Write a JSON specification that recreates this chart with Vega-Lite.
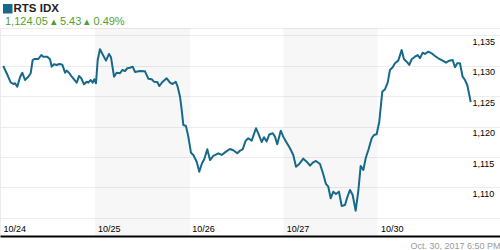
{
  "$schema": "https://vega.github.io/schema/vega-lite/v6.json",
  "width": 500,
  "height": 208,
  "autosize": "none",
  "padding": {"top": 28, "left": 0, "right": 0, "bottom": 14},
  "background": "white",
  "config": {"view": {"stroke": "#ececec"}, "font": "Liberation Sans"},
  "title": {
    "text": "1,124.05  ▴ 5.43  ▴ 0.49%",
    "anchor": "start",
    "orient": "top",
    "frame": "group",
    "offset": -33,
    "dx": 5,
    "baseline": "alphabetic",
    "fontSize": 11,
    "fontWeight": "normal",
    "color": "#4f9f2f",
    "font": "Liberation Sans"
  },
  "layer": [
    {
      "data": {"values": [{"t": 1.006, "t2": 2.013}, {"t": 3.001, "t2": 4.001}]},
      "mark": {"type": "rect", "fill": "#000", "opacity": 0.03},
      "encoding": {
        "x": {
          "field": "t", "type": "quantitative",
          "scale": {"domain": [0, 5.297], "nice": false, "zero": false},
          "axis": {
            "values": [0, 1, 2, 3, 4],
            "labelExpr": "['10/24','10/25','10/26','10/27','10/30'][datum.value]",
            "labelAlign": "left", "labelOffset": 3, "labelBaseline": "alphabetic", "labelPadding": -5,
            "ticks": false, "tickSize": 0, "grid": false,
            "domainColor": "#000", "domainWidth": 2,
            "labelFontSize": 9, "labelColor": "#000", "labelFlush": false, "labelOverlap": false,
            "title": "Oct. 30, 2017 6:50 PM", "titleFontSize": 9, "titleFontWeight": "normal", "titleColor": "#999",
            "titleX": 500, "titleY": 12, "titleAlign": "right", "titleAnchor": "end", "titleBaseline": "alphabetic"
          }
        },
        "x2": {"field": "t2"}
      }
    },
    {
      "data": {"values": [
        {"t":0.035,"v":1129.98,"s":"RTS IDX"},{"t":0.071,"v":1128.78,"s":"RTS IDX"},{"t":0.113,"v":1127.30,"s":"RTS IDX"},{"t":0.141,"v":1127.02,"s":"RTS IDX"},{"t":0.159,"v":1127.14,"s":"RTS IDX"},{"t":0.183,"v":1126.58,"s":"RTS IDX"},{"t":0.212,"v":1128.12,"s":"RTS IDX"},{"t":0.236,"v":1128.88,"s":"RTS IDX"},{"t":0.265,"v":1127.68,"s":"RTS IDX"},{"t":0.300,"v":1128.22,"s":"RTS IDX"},{"t":0.325,"v":1128.78,"s":"RTS IDX"},{"t":0.346,"v":1130.97,"s":"RTS IDX"},{"t":0.363,"v":1131.13,"s":"RTS IDX"},{"t":0.406,"v":1131.13,"s":"RTS IDX"},{"t":0.438,"v":1131.79,"s":"RTS IDX"},{"t":0.459,"v":1131.51,"s":"RTS IDX"},{"t":0.501,"v":1131.51,"s":"RTS IDX"},{"t":0.530,"v":1131.09,"s":"RTS IDX"},{"t":0.548,"v":1129.87,"s":"RTS IDX"},{"t":0.572,"v":1130.26,"s":"RTS IDX"},{"t":0.601,"v":1130.15,"s":"RTS IDX"},{"t":0.628,"v":1130.31,"s":"RTS IDX"},{"t":0.660,"v":1130.20,"s":"RTS IDX"},{"t":0.689,"v":1128.88,"s":"RTS IDX"},{"t":0.707,"v":1129.21,"s":"RTS IDX"},{"t":0.731,"v":1128.88,"s":"RTS IDX"},{"t":0.760,"v":1128.22,"s":"RTS IDX"},{"t":0.784,"v":1127.80,"s":"RTS IDX"},{"t":0.813,"v":1127.24,"s":"RTS IDX"},{"t":0.837,"v":1128.34,"s":"RTS IDX"},{"t":0.861,"v":1127.96,"s":"RTS IDX"},{"t":0.890,"v":1126.97,"s":"RTS IDX"},{"t":0.918,"v":1127.40,"s":"RTS IDX"},{"t":0.935,"v":1127.24,"s":"RTS IDX"},{"t":0.961,"v":1127.68,"s":"RTS IDX"},{"t":0.982,"v":1127.24,"s":"RTS IDX"},{"t":0.999,"v":1127.80,"s":"RTS IDX"},{"t":1.017,"v":1127.14,"s":"RTS IDX"},{"t":1.035,"v":1130.97,"s":"RTS IDX"},{"t":1.059,"v":1132.73,"s":"RTS IDX"},{"t":1.091,"v":1131.79,"s":"RTS IDX"},{"t":1.123,"v":1130.86,"s":"RTS IDX"},{"t":1.155,"v":1131.96,"s":"RTS IDX"},{"t":1.176,"v":1131.41,"s":"RTS IDX"},{"t":1.208,"v":1128.22,"s":"RTS IDX"},{"t":1.236,"v":1128.88,"s":"RTS IDX"},{"t":1.271,"v":1128.78,"s":"RTS IDX"},{"t":1.296,"v":1129.33,"s":"RTS IDX"},{"t":1.324,"v":1129.16,"s":"RTS IDX"},{"t":1.349,"v":1129.61,"s":"RTS IDX"},{"t":1.377,"v":1129.70,"s":"RTS IDX"},{"t":1.406,"v":1129.87,"s":"RTS IDX"},{"t":1.430,"v":1129.00,"s":"RTS IDX"},{"t":1.483,"v":1129.16,"s":"RTS IDX"},{"t":1.536,"v":1129.11,"s":"RTS IDX"},{"t":1.571,"v":1127.89,"s":"RTS IDX"},{"t":1.607,"v":1127.80,"s":"RTS IDX"},{"t":1.631,"v":1127.40,"s":"RTS IDX"},{"t":1.666,"v":1127.35,"s":"RTS IDX"},{"t":1.688,"v":1126.69,"s":"RTS IDX"},{"t":1.724,"v":1127.40,"s":"RTS IDX"},{"t":1.766,"v":1127.96,"s":"RTS IDX"},{"t":1.801,"v":1127.24,"s":"RTS IDX"},{"t":1.829,"v":1127.02,"s":"RTS IDX"},{"t":1.861,"v":1127.40,"s":"RTS IDX"},{"t":1.882,"v":1126.58,"s":"RTS IDX"},{"t":1.907,"v":1124.93,"s":"RTS IDX"},{"t":1.925,"v":1122.75,"s":"RTS IDX"},{"t":1.942,"v":1120.28,"s":"RTS IDX"},{"t":1.970,"v":1120.12,"s":"RTS IDX"},{"t":1.995,"v":1118.36,"s":"RTS IDX"},{"t":2.023,"v":1115.72,"s":"RTS IDX"},{"t":2.048,"v":1115.35,"s":"RTS IDX"},{"t":2.084,"v":1114.24,"s":"RTS IDX"},{"t":2.111,"v":1112.60,"s":"RTS IDX"},{"t":2.140,"v":1113.98,"s":"RTS IDX"},{"t":2.164,"v":1114.64,"s":"RTS IDX"},{"t":2.196,"v":1116.28,"s":"RTS IDX"},{"t":2.225,"v":1114.52,"s":"RTS IDX"},{"t":2.260,"v":1115.18,"s":"RTS IDX"},{"t":2.313,"v":1115.62,"s":"RTS IDX"},{"t":2.348,"v":1115.35,"s":"RTS IDX"},{"t":2.394,"v":1115.89,"s":"RTS IDX"},{"t":2.436,"v":1116.33,"s":"RTS IDX"},{"t":2.471,"v":1116.12,"s":"RTS IDX"},{"t":2.514,"v":1115.62,"s":"RTS IDX"},{"t":2.542,"v":1116.05,"s":"RTS IDX"},{"t":2.571,"v":1116.28,"s":"RTS IDX"},{"t":2.603,"v":1117.70,"s":"RTS IDX"},{"t":2.630,"v":1118.09,"s":"RTS IDX"},{"t":2.666,"v":1117.70,"s":"RTS IDX"},{"t":2.712,"v":1119.74,"s":"RTS IDX"},{"t":2.736,"v":1118.91,"s":"RTS IDX"},{"t":2.772,"v":1117.48,"s":"RTS IDX"},{"t":2.797,"v":1118.26,"s":"RTS IDX"},{"t":2.825,"v":1117.57,"s":"RTS IDX"},{"t":2.853,"v":1118.72,"s":"RTS IDX"},{"t":2.889,"v":1118.91,"s":"RTS IDX"},{"t":2.913,"v":1118.36,"s":"RTS IDX"},{"t":2.937,"v":1117.11,"s":"RTS IDX"},{"t":2.974,"v":1119.34,"s":"RTS IDX"},{"t":3.001,"v":1118.36,"s":"RTS IDX"},{"t":3.037,"v":1117.37,"s":"RTS IDX"},{"t":3.072,"v":1116.45,"s":"RTS IDX"},{"t":3.107,"v":1115.35,"s":"RTS IDX"},{"t":3.136,"v":1113.42,"s":"RTS IDX"},{"t":3.171,"v":1113.87,"s":"RTS IDX"},{"t":3.213,"v":1114.74,"s":"RTS IDX"},{"t":3.249,"v":1114.24,"s":"RTS IDX"},{"t":3.284,"v":1113.59,"s":"RTS IDX"},{"t":3.319,"v":1114.14,"s":"RTS IDX"},{"t":3.347,"v":1114.36,"s":"RTS IDX"},{"t":3.390,"v":1113.87,"s":"RTS IDX"},{"t":3.425,"v":1112.17,"s":"RTS IDX"},{"t":3.453,"v":1110.58,"s":"RTS IDX"},{"t":3.478,"v":1110.13,"s":"RTS IDX"},{"t":3.503,"v":1108.22,"s":"RTS IDX"},{"t":3.531,"v":1109.31,"s":"RTS IDX"},{"t":3.559,"v":1108.93,"s":"RTS IDX"},{"t":3.591,"v":1109.31,"s":"RTS IDX"},{"t":3.620,"v":1106.96,"s":"RTS IDX"},{"t":3.655,"v":1107.12,"s":"RTS IDX"},{"t":3.679,"v":1108.39,"s":"RTS IDX"},{"t":3.708,"v":1109.59,"s":"RTS IDX"},{"t":3.736,"v":1108.77,"s":"RTS IDX"},{"t":3.768,"v":1106.18,"s":"RTS IDX"},{"t":3.796,"v":1109.42,"s":"RTS IDX"},{"t":3.821,"v":1113.54,"s":"RTS IDX"},{"t":3.849,"v":1112.88,"s":"RTS IDX"},{"t":3.874,"v":1114.80,"s":"RTS IDX"},{"t":3.902,"v":1116.17,"s":"RTS IDX"},{"t":3.938,"v":1118.09,"s":"RTS IDX"},{"t":3.962,"v":1118.63,"s":"RTS IDX"},{"t":3.990,"v":1118.75,"s":"RTS IDX"},{"t":4.018,"v":1120.82,"s":"RTS IDX"},{"t":4.050,"v":1125.76,"s":"RTS IDX"},{"t":4.078,"v":1126.15,"s":"RTS IDX"},{"t":4.107,"v":1127.24,"s":"RTS IDX"},{"t":4.131,"v":1129.33,"s":"RTS IDX"},{"t":4.160,"v":1129.77,"s":"RTS IDX"},{"t":4.184,"v":1130.43,"s":"RTS IDX"},{"t":4.219,"v":1130.86,"s":"RTS IDX"},{"t":4.255,"v":1132.62,"s":"RTS IDX"},{"t":4.280,"v":1131.09,"s":"RTS IDX"},{"t":4.308,"v":1130.69,"s":"RTS IDX"},{"t":4.336,"v":1130.15,"s":"RTS IDX"},{"t":4.361,"v":1131.09,"s":"RTS IDX"},{"t":4.396,"v":1131.51,"s":"RTS IDX"},{"t":4.425,"v":1131.79,"s":"RTS IDX"},{"t":4.449,"v":1131.25,"s":"RTS IDX"},{"t":4.478,"v":1132.17,"s":"RTS IDX"},{"t":4.502,"v":1131.96,"s":"RTS IDX"},{"t":4.537,"v":1132.34,"s":"RTS IDX"},{"t":4.573,"v":1132.07,"s":"RTS IDX"},{"t":4.608,"v":1131.63,"s":"RTS IDX"},{"t":4.643,"v":1131.25,"s":"RTS IDX"},{"t":4.690,"v":1130.86,"s":"RTS IDX"},{"t":4.725,"v":1130.53,"s":"RTS IDX"},{"t":4.760,"v":1130.86,"s":"RTS IDX"},{"t":4.796,"v":1130.97,"s":"RTS IDX"},{"t":4.820,"v":1129.77,"s":"RTS IDX"},{"t":4.844,"v":1130.43,"s":"RTS IDX"},{"t":4.873,"v":1130.43,"s":"RTS IDX"},{"t":4.901,"v":1128.22,"s":"RTS IDX"},{"t":4.926,"v":1127.68,"s":"RTS IDX"},{"t":4.950,"v":1126.86,"s":"RTS IDX"},{"t":4.979,"v":1124.67,"s":"RTS IDX"},{"t":4.986,"v":1124.05,"s":"RTS IDX"}
      ]},
      "mark": {"type": "line", "strokeWidth": 2, "strokeJoin": "round"},
      "encoding": {
        "x": {
          "field": "t", "type": "quantitative",
          "scale": {"domain": [0, 5.297], "nice": false, "zero": false},
          "axis": {
            "values": [0, 1, 2, 3, 4],
            "labelExpr": "['10/24','10/25','10/26','10/27','10/30'][datum.value]",
            "labelAlign": "left", "labelOffset": 3, "labelBaseline": "alphabetic", "labelPadding": -5,
            "ticks": false, "tickSize": 0, "grid": false,
            "domainColor": "#000", "domainWidth": 2,
            "labelFontSize": 9, "labelColor": "#000", "labelFlush": false, "labelOverlap": false,
            "title": "Oct. 30, 2017 6:50 PM", "titleFontSize": 9, "titleFontWeight": "normal", "titleColor": "#999",
            "titleX": 500, "titleY": 12, "titleAlign": "right", "titleAnchor": "end", "titleBaseline": "alphabetic"
          }
        },
        "y": {
          "field": "v", "type": "quantitative",
          "scale": {"domain": [1102.02, 1136.23], "nice": false, "zero": false},
          "axis": {
            "orient": "right",
            "values": [1105, 1110, 1115, 1120, 1125, 1130, 1135],
            "labelExpr": "datum.value < 1108 ? '' : format(datum.value, ',')",
            "grid": true, "gridColor": "#ececec", "domain": false, "ticks": false, "tickSize": 0,
            "labelAlign": "left", "labelPadding": -28, "labelBaseline": "alphabetic", "labelOffset": 9,
            "labelFontSize": 9, "labelColor": "#000", "title": null, "labelFlush": false, "labelOverlap": false
          }
        },
        "color": {
          "field": "s", "type": "nominal",
          "scale": {"domain": ["RTS IDX"], "range": ["#17698a"]},
          "legend": {
            "orient": "none", "legendX": 2, "legendY": -25, "title": null, "padding": 0,
            "symbolType": "square", "symbolSize": 64, "labelFontSize": 11.5, "labelFontWeight": "bold",
            "labelColor": "#222", "labelOffset": 0,
            "encode": {"symbols": {"update": {"fill": {"value": "#17698a"}, "stroke": {"value": "transparent"}, "shape": {"value": "square"}, "opacity": {"value": 1}}}}
          }
        }
      }
    }
  ]
}
